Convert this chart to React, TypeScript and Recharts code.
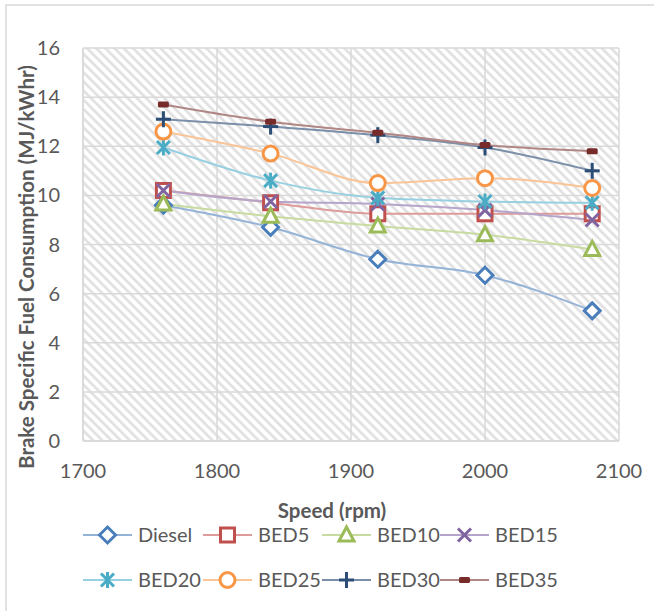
import React from 'react';
import { LineChart, Line, XAxis, YAxis, CartesianGrid } from 'recharts';

// speed (rpm) and BSFC (MJ/kWhr)
const speeds = [1760, 1840, 1920, 2000, 2080];
const diesel = [9.6, 8.7, 7.4, 6.75, 5.3];
const bed5 = [10.2, 9.7, 9.25, 9.25, 9.25];
const bed10 = [9.65, 9.15, 8.75, 8.4, 7.8];
const bed15 = [10.2, 9.75, 9.65, 9.4, 9.0];
const bed20 = [11.95, 10.6, 9.9, 9.75, 9.7];
const bed25 = [12.6, 11.7, 10.5, 10.7, 10.3];
const bed30 = [13.1, 12.8, 12.45, 11.95, 11.0];
const bed35 = [13.7, 13.0, 12.55, 12.05, 11.8];

const xTicks = [1700, 1800, 1900, 2000, 2100];
const yTicks = [0, 2, 4, 6, 8, 10, 12, 14, 16];

const FONT = 'Lato, "Open Sans", sans-serif';
const TEXT = '#595959';

type Shape = 'diamond' | 'square' | 'triangle' | 'x' | 'star' | 'circle' | 'plus' | 'dash';

const series: { name: string; values: number[]; color: string; line: string; shape: Shape }[] = [
  { name: 'Diesel', values: diesel, color: '#4a7ebb', line: '#95b3d7', shape: 'diamond' },
  { name: 'BED5', values: bed5, color: '#c0504d', line: '#dd9b99', shape: 'square' },
  { name: 'BED10', values: bed10, color: '#9bbb59', line: '#c8dca1', shape: 'triangle' },
  { name: 'BED15', values: bed15, color: '#8064a2', line: '#b5a5ca', shape: 'x' },
  { name: 'BED20', values: bed20, color: '#4bacc6', line: '#97d0e0', shape: 'star' },
  { name: 'BED25', values: bed25, color: '#f79646', line: '#fac497', shape: 'circle' },
  { name: 'BED30', values: bed30, color: '#2c4d75', line: '#7b8fa9', shape: 'plus' },
  { name: 'BED35', values: bed35, color: '#772c2a', line: '#b18785', shape: 'dash' },
];

const rows = speeds.map((speed, i) => {
  const row: Record<string, number> = { speed };
  series.forEach((s) => (row[s.name] = s.values[i]));
  return row;
});

function Marker({ shape, cx, cy, color }: { shape: Shape; cx: number; cy: number; color: string }) {
  const sw = 3;
  switch (shape) {
    case 'diamond':
      return <polygon points={`${cx},${cy - 8} ${cx + 8},${cy} ${cx},${cy + 8} ${cx - 8},${cy}`} fill="#fff" stroke={color} strokeWidth={sw} />;
    case 'square':
      return <rect x={cx - 7} y={cy - 7} width={14} height={14} fill="#fff" stroke={color} strokeWidth={sw} />;
    case 'triangle':
      return <polygon points={`${cx},${cy - 8} ${cx + 7.5},${cy + 6} ${cx - 7.5},${cy + 6}`} fill="#fff" stroke={color} strokeWidth={sw} />;
    case 'x':
      return (
        <g stroke={color} strokeWidth={sw}>
          <line x1={cx - 6.5} y1={cy - 6.5} x2={cx + 6.5} y2={cy + 6.5} />
          <line x1={cx - 6.5} y1={cy + 6.5} x2={cx + 6.5} y2={cy - 6.5} />
        </g>
      );
    case 'star':
      return (
        <g stroke={color} strokeWidth={sw}>
          <line x1={cx - 6.5} y1={cy - 6.5} x2={cx + 6.5} y2={cy + 6.5} />
          <line x1={cx - 6.5} y1={cy + 6.5} x2={cx + 6.5} y2={cy - 6.5} />
          <line x1={cx} y1={cy - 8} x2={cx} y2={cy + 8} />
        </g>
      );
    case 'circle':
      return <circle cx={cx} cy={cy} r={7.5} fill="#fff" stroke={color} strokeWidth={sw} />;
    case 'plus':
      return (
        <g stroke={color} strokeWidth={sw}>
          <line x1={cx - 7.5} y1={cy} x2={cx + 7.5} y2={cy} />
          <line x1={cx} y1={cy - 8} x2={cx} y2={cy + 8} />
        </g>
      );
    default:
      return <rect x={cx - 5.5} y={cy - 3} width={11} height={6} rx={1.5} fill={color} />;
  }
}

// legend placed like the Excel one: two rows of four
const legendCols = [83, 203, 322, 440];
const legendRows = [535, 580];

function ChartLegend() {
  return (
    <svg width={654} height={611} style={{ position: 'absolute', left: 0, top: 0, pointerEvents: 'none' }}>
      {series.map((s, i) => {
        const x = legendCols[i % 4];
        const y = legendRows[Math.floor(i / 4)];
        return (
          <g key={s.name}>
            <line x1={x} y1={y} x2={x + 49} y2={y} stroke={s.line} strokeWidth={2} />
            <Marker shape={s.shape} cx={x + 24.5} cy={y} color={s.color} />
            <text x={x + 55} y={y} dy="0.35em" fontSize={20} fill={TEXT} fontFamily={FONT}>
              {s.name}
            </text>
          </g>
        );
      })}
    </svg>
  );
}

export default function App() {
  return (
    <div style={{ position: 'relative', width: 654, height: 611, background: '#fff' }}>
      <style>{`body{margin:0}`}</style>
      <svg width={654} height={611} style={{ position: 'absolute', left: 0, top: 0 }}>
        <rect x={6} y={5} width={700} height={700} fill="#fff" stroke="#d9d9d9" strokeWidth={1.5} />
      </svg>
      <div style={{ position: 'absolute', left: 0, top: 0 }}>
        <LineChart width={654} height={611} data={rows} margin={{ top: 48, right: 35, left: 0, bottom: 130 }}>
          <defs>
            <pattern id="hatch" patternUnits="userSpaceOnUse" width={6.5} height={6.5} patternTransform="rotate(-45)">
              <rect width={6.5} height={6.5} fill="#fff" />
              <rect width={2.8} height={6.5} fill="#e2e2e2" />
            </pattern>
          </defs>
          <CartesianGrid fill="url(#hatch)" stroke="#d9d9d9" strokeWidth={1.5} horizontalValues={yTicks} verticalValues={xTicks} />
          <XAxis
            dataKey="speed"
            type="number"
            domain={[1700, 2100]}
            ticks={xTicks}
            height={40}
            axisLine={{ stroke: '#d9d9d9', strokeWidth: 1.5 }}
            tickLine={false}
            tickMargin={17}
            tick={{ fill: TEXT, fontSize: 20, fontFamily: FONT }}
            label={{
              content: () => (
                <text x={332} y={518} textAnchor="middle" fontSize={20.5} fontWeight="bold" fill={TEXT} fontFamily={FONT}>
                  Speed (rpm)
                </text>
              ),
            }}
          />
          <YAxis
            type="number"
            domain={[0, 16]}
            ticks={yTicks}
            width={83}
            axisLine={{ stroke: '#d9d9d9', strokeWidth: 1.5 }}
            tickLine={false}
            tickMargin={17}
            tick={{ fill: TEXT, fontSize: 20, fontFamily: FONT }}
            label={{
              content: () => (
                <text
                  x={26}
                  y={267}
                  transform="rotate(-90 26 267)"
                  textAnchor="middle"
                  dominantBaseline="central"
                  fontSize={20.5}
                  fontWeight="bold"
                  fill={TEXT}
                  fontFamily={FONT}
                >
                  Brake Specific Fuel Consumption (MJ/kWhr)
                </text>
              ),
            }}
          />
          {series.map((s) => (
            <Line
              key={s.name}
              type="monotone"
              dataKey={s.name}
              stroke={s.line}
              strokeWidth={2}
              isAnimationActive={false}
              activeDot={false}
              dot={(p: any) => (
                <g key={`${s.name}-${p.index}`}>
                  <Marker shape={s.shape} cx={p.cx} cy={p.cy} color={s.color} />
                </g>
              )}
            />
          ))}
        </LineChart>
      </div>
      <ChartLegend />
    </div>
  );
}
